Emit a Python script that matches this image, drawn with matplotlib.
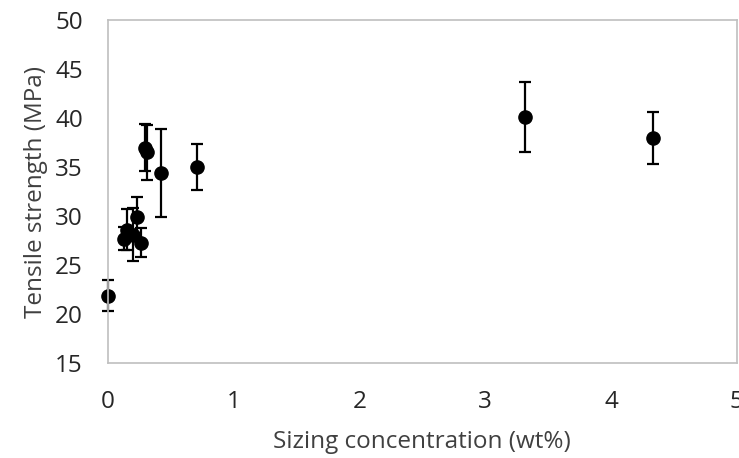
import matplotlib
matplotlib.use('Agg')
import matplotlib.pyplot as plt

# 데이터
conc = [0.0, 0.127, 0.15, 0.20, 0.233, 0.262, 0.294, 0.31, 0.42, 0.705, 3.32, 4.33]
strength = [21.9, 27.7, 28.6, 28.1, 29.9, 27.3, 37.0, 36.5, 34.4, 35.0, 40.1, 38.0]
err = [1.6, 1.2, 2.1, 2.7, 2.1, 1.5, 2.4, 2.8, 4.5, 2.35, 3.6, 2.65]

xticks = [0, 1, 2, 3, 4, 5]
yticks = [15, 20, 25, 30, 35, 40, 45, 50]

plt.rcParams['font.family'] = ['Open Sans', 'DejaVu Sans']

fig = plt.figure(figsize=(7.39, 4.58), dpi=100)
ax = fig.add_axes([0.146, 0.207, 0.851, 0.749])

ax.errorbar(conc, strength, yerr=err, fmt='o', color='black', markersize=9.5,
            elinewidth=1.6, capsize=4.5, capthick=1.6, clip_on=False)

ax.set_xlim(0, 5)
ax.set_ylim(15, 50)
ax.set_xticks(xticks)
ax.set_yticks(yticks)
ax.tick_params(length=0, labelsize=17.5, colors='#262626')
ax.tick_params(axis='x', pad=19)
ax.tick_params(axis='y', pad=18)

for s in ax.spines.values():
    s.set_color('#bfbfbf')
    s.set_linewidth(1.2)

ax.set_xlabel('Sizing concentration (wt%)', fontsize=17.5, color='#404040', labelpad=12)
ax.set_ylabel('Tensile strength (MPa)', fontsize=17.5, color='#404040', labelpad=5)

fig.savefig('out.png', dpi=100)
